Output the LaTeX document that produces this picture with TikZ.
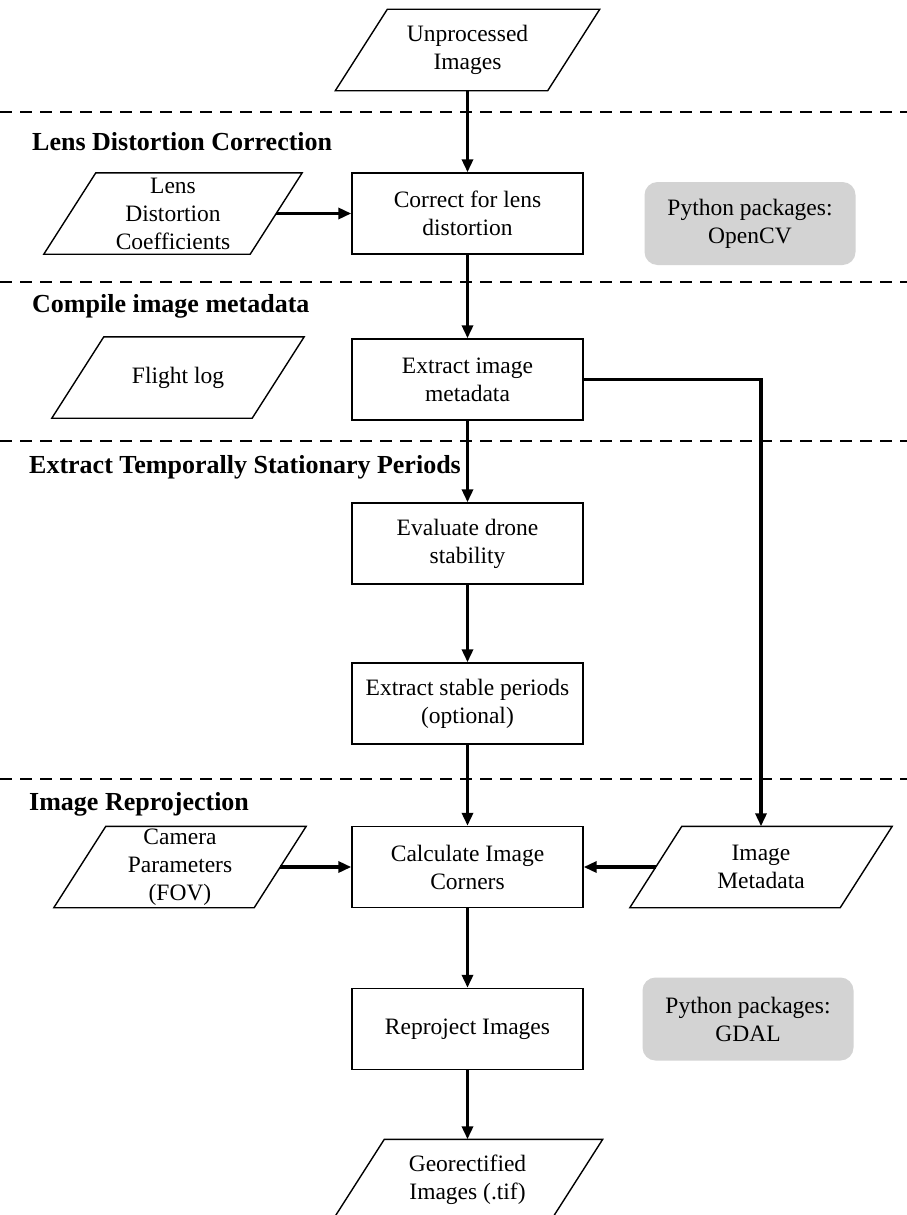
\documentclass[tikz,border=0pt]{standalone}
\usepackage{fontspec}
\setmainfont{Liberation Serif}
\usetikzlibrary{arrows.meta,calc}
\definecolor{pkggray}{HTML}{D3D3D3}
\tikzset{
  every node/.style={font=\fontsize{23.5}{28}\selectfont},
  procbox/.style={draw, line width=1.4pt, minimum width=231pt, minimum height=81pt, align=center, inner sep=0pt},
  iobox/.style={minimum width=208pt, minimum height=81pt, align=center, inner sep=0pt},
  pkgbox/.style={fill=pkggray, rounded corners=13pt, minimum width=211pt, minimum height=83pt, align=center, inner sep=0pt},
  heading/.style={anchor=base west, font=\bfseries\fontsize{26}{30}\selectfont, inner sep=0pt},
  flow/.style={line width=3.4pt, -{Triangle[length=13pt,width=11pt]}},
  sepline/.style={line width=2pt, dash pattern=on 12pt off 8pt},
}
\newcommand{\iooutline}[1]{\draw[line width=1.4pt, line join=miter] ([xshift=26pt]#1.north west) -- ([xshift=26pt]#1.north east) -- ([xshift=-26pt]#1.south east) -- ([xshift=-26pt]#1.south west) -- cycle;}
\begin{document}
\begin{tikzpicture}[x=1pt,y=-1pt]
\useasboundingbox (0,0) rectangle (907,1215);
\clip (0,0) rectangle (907,1215);

% separators
\draw[sepline] (0,112) -- (907,112);
\draw[sepline] (0,282) -- (907,282);
\draw[sepline] (0,441) -- (907,441);
\draw[sepline] (0,779) -- (907,779);

% headings
\node[heading] (h1) at (32,150) {Lens Distortion Correction};
\node[heading] (h2) at (32,312) {Compile image metadata};
\node[heading] (h3) at (29,473) {Extract Temporally Stationary Periods};
\node[heading] (h4) at (29,810) {Image Reprojection};

% input/output parallelograms
\node[iobox, minimum width=212pt] (uimg) at (467.5,50) {Unprocessed\\Images};
\node[iobox, minimum width=206pt] (lens) at (173,213.5) {Lens\\Distortion\\Coefficients};
\node[iobox, minimum width=200pt] (flight) at (178,377.5) {Flight log};
\node[iobox, minimum width=200pt] (camera) at (180,867) {Camera\\Parameters\\(FOV)};
\node[iobox, minimum width=210pt] (imgmeta) at (761,867) {Image\\Metadata};
\node[iobox, minimum width=218pt] (geo) at (467.5,1180) {Georectified\\Images (.tif)};
\iooutline{uimg}
\iooutline{lens}
\iooutline{flight}
\iooutline{camera}
\iooutline{imgmeta}
\iooutline{geo}

% process boxes
\node[procbox] (correct) at (467.5,213.5) {Correct for lens\\distortion};
\node[procbox] (extract) at (467.5,379.5) {Extract image\\metadata};
\node[procbox] (evaluate) at (467.5,543.5) {Evaluate drone\\stability};
\node[procbox] (stable) at (467.5,703.5) {Extract stable periods\\(optional)};
\node[procbox] (calc) at (467.5,867) {Calculate Image\\Corners};
\node[procbox] (reproj) at (467.5,1029) {Reproject Images};

% package boxes
\node[pkgbox] (opencv) at (750,223.5) {Python packages:\\OpenCV};
\node[pkgbox] (gdal) at (748,1019) {Python packages:\\GDAL};

% connectors
\draw[flow] (uimg.south) -- (correct.north);
\draw[flow] (lens.east) -- (correct.west);
\draw[flow] (correct.south) -- (extract.north);
\draw[flow] (extract.south) -- (evaluate.north);
\draw[flow] (evaluate.south) -- (stable.north);
\draw[flow] (stable.south) -- (calc.north);
\draw[flow, line join=miter] (extract.east) -| (imgmeta.north);
\draw[flow] (camera.east) -- (calc.west);
\draw[flow] (imgmeta.west) -- (calc.east);
\draw[flow] (calc.south) -- (reproj.north);
\draw[flow] (reproj.south) -- (geo.north);
\end{tikzpicture}
\end{document}
